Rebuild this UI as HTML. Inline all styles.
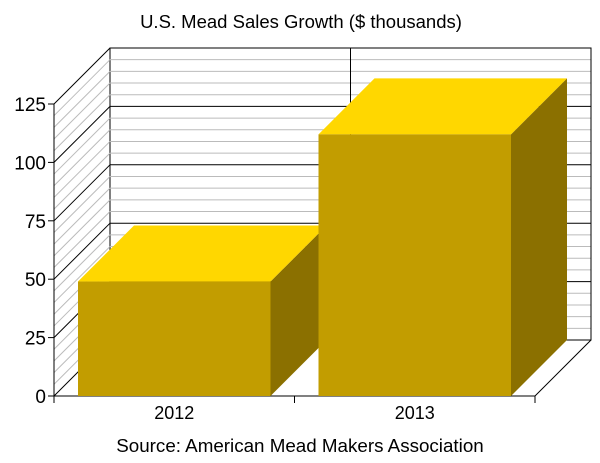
<!DOCTYPE html>
<html><head><meta charset="utf-8"><style>
body{margin:0;background:#fff;}
svg{display:block;font-family:"Comic Sans MS","Liberation Sans",sans-serif;}
</style></head><body>
<svg id="chart" width="600" height="463" viewBox="0 0 600 463">
<text x="301" y="28" text-anchor="middle" font-size="18.5">U.S. Mead Sales Growth ($ thousands)</text>
<text x="300" y="452" text-anchor="middle" font-size="18.8">Source: American Mead Makers Association</text>
<g id="plot"></g>
</svg>
<script>
const categories = ["2012", "2013"];
const values = [49, 112];
const yTicks = [0, 25, 50, 75, 100, 125];
const yMax = 125;

const NS = "http://www.w3.org/2000/svg";
const g = document.getElementById("plot");
const X0 = 54, X1 = 535, Y0 = 396, YT = 104, DX = 56, DY = -56;
function y(v){ return Y0 - (v / yMax) * (Y0 - YT); }
const band = (X1 - X0) / categories.length;
function mk(tag, attrs, parent){
  const e = document.createElementNS(NS, tag);
  for (const k in attrs) e.setAttribute(k, attrs[k]);
  (parent || g).appendChild(e);
  return e;
}
const back = mk("rect", {x: X0+DX, y: y(yMax)+DY, width: X1-X0, height: Y0-y(yMax), fill: "#fff", stroke: "#000"});


for (let v = 5; v < yMax; v += 5) {
  if (v % 25 === 0) continue;
  const l1 = mk("line", {x1: X0+DX, x2: X1+DX, y1: y(v)+DY, y2: y(v)+DY, stroke: "#bbb"});
  
  
  const l2 = mk("line", {x1: X0, x2: X0+DX, y1: y(v), y2: y(v)+DY, stroke: "#bbb"});
  
  
}
yTicks.forEach(v => {
  const l1 = mk("line", {x1: X0+DX, x2: X1+DX, y1: y(v)+DY, y2: y(v)+DY, stroke: "#000"});
  
  
  const l2 = mk("line", {x1: X0, x2: X0+DX, y1: y(v), y2: y(v)+DY, stroke: "#000"});
  
  
  const t = mk("line", {x1: X0-6, x2: X0, y1: y(v), y2: y(v), stroke: "#000"});
  
  
  const tx = mk("text", {x: X0-8, y: y(v)+7, "text-anchor": "end", "font-size": "19"});
  tx.textContent = v;
  
  
});
for (let i = 1; i < categories.length; i++) {
  const d = mk("line", {x1: X0+DX+band*i, x2: X0+DX+band*i, y1: y(yMax)+DY, y2: Y0+DY, stroke: "#000"});
  
  
}
const ax = mk("polyline", {points: `${X0},${y(yMax)} ${X0},${Y0} ${X1},${Y0} ${X1+DX},${Y0+DY} ${X1+DX},${y(yMax)+DY}`, fill: "none", stroke: "#000"});


for (let i = 0; i <= categories.length; i++) {
  const t = mk("line", {x1: X0+band*i, x2: X0+band*i, y1: Y0, y2: Y0+7, stroke: "#000"});
  
  
}
const pad = 24;
categories.forEach((c, i) => {
  const bx = X0 + band*i + pad, bw = band - 2*pad, by = y(values[i]);
  const grp = mk("g", {});
  
  
  mk("polygon", {points: `${bx+bw},${by} ${bx+bw+DX},${by+DY} ${bx+bw+DX},${Y0+DY} ${bx+bw},${Y0}`, fill: "#8b7000"}, grp);
  mk("polygon", {points: `${bx},${by} ${bx+DX},${by+DY} ${bx+bw+DX},${by+DY} ${bx+bw},${by}`, fill: "#ffd700"}, grp);
  mk("rect", {x: bx, y: by, width: bw, height: Y0-by, fill: "#c29d00"}, grp);
  const lb = mk("text", {x: X0 + band*(i+0.5), y: Y0+23, "text-anchor": "middle", "font-size": "18"});
  lb.textContent = c;
  
  
});
</script>
</body></html>
